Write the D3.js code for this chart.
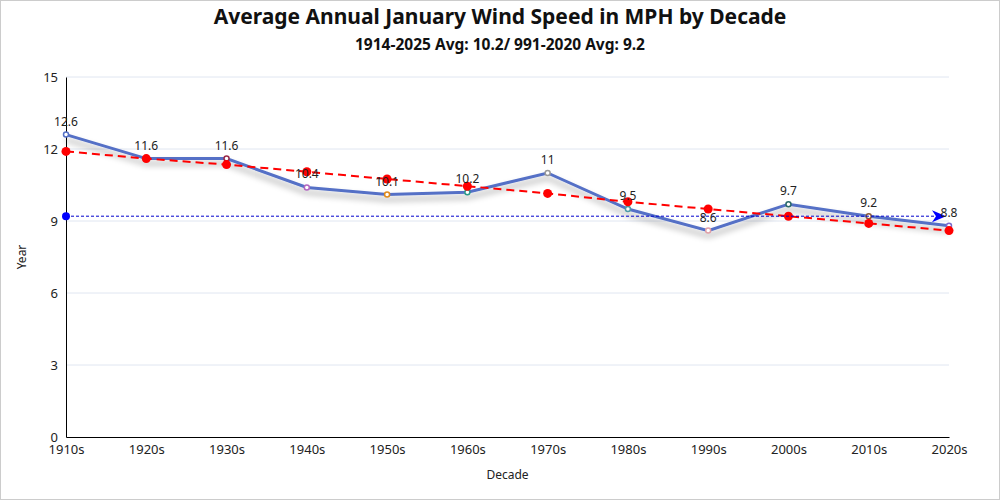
<!DOCTYPE html>
<html>
<head>
<meta charset="utf-8">
<script src="https://cdn.jsdelivr.net/npm/d3@7.9.0/dist/d3.min.js"></script>
<style>
  html, body { margin: 0; padding: 0; background: #fff; }
  svg { display: block; font-family: "Noto Sans", "Open Sans", sans-serif; }
</style>
</head>
<body>
<svg id="chart" width="1000" height="500"></svg>
<script>
// Decades on the x axis
const decades = ['1910s', '1920s', '1930s', '1940s', '1950s', '1960s',
  '1970s', '1980s', '1990s', '2000s', '2010s', '2020s'];

// Average January wind speed per decade (mph)
const windSpeed = [12.6, 11.6, 11.6, 10.4, 10.1, 10.2, 11, 9.5, 8.6, 9.7, 9.2, 8.8];

// Trend line values
const trend = [11.9, 11.6, 11.35, 11.05, 10.75, 10.45, 10.15, 9.8, 9.5, 9.2, 8.9, 8.6];

// 1991-2020 average marker line
const normalAvg = 9.2;

// Colours of the little point symbols
const pointColors = ['#5470c6', '#91cc75', '#9a2a4a', '#b266c0', '#e08a1a', '#2a9a8a',
  '#999999', '#4a9aa6', '#e0a0a8', '#2a6a6a', '#8a5a3a', '#7a6acc'];

const yTicks = [0, 3, 6, 9, 12, 15];

const width = 1000, height = 500;
const margin = { top: 77, right: 51, bottom: 63, left: 66 };

const svg = d3.select('#chart');

// outer border
svg.append('rect')
  .attr('x', 0.5).attr('y', 0.5)
  .attr('width', width - 1).attr('height', height - 1)
  .attr('fill', '#fff').attr('stroke', '#ccc');

// shadow filter for the main line
const defs = svg.append('defs');
const filter = defs.append('filter').attr('id', 'shadow')
  .attr('x', '-10%').attr('y', '-20%').attr('width', '120%').attr('height', '160%');
filter.append('feDropShadow')
  .attr('dx', 0).attr('dy', 5).attr('stdDeviation', 3)
  .attr('flood-color', '#000').attr('flood-opacity', 0.35);

let x = d3.scalePoint()
  .domain(decades)
  .range([margin.left, width - margin.right]);

let y = d3.scaleLinear()
  .domain([0, 15])
  .range([height - margin.bottom, margin.top]);

// gridlines
svg.append('g')
  .selectAll('line')
  .data(yTicks.filter((t) => t > 0))
  .join('line')
  .attr('x1', margin.left).attr('x2', width - margin.right)
  .attr('y1', (d) => y(d)).attr('y2', (d) => y(d))
  .attr('stroke', '#e0e6f1');

// y axis
let yAxis = svg.append('g')
  .attr('transform', `translate(${margin.left},0)`)
  .call(d3.axisLeft(y).tickValues(yTicks).tickSize(0).tickPadding(8));
yAxis.select('.domain').attr('stroke', '#000');
yAxis.selectAll('text').attr('font-size', 13).attr('fill', '#222')
  .attr('font-family', '"Noto Sans", sans-serif');

// x axis
let xAxis = svg.append('g')
  .attr('transform', `translate(0,${height - margin.bottom})`)
  .call(d3.axisBottom(x).tickSize(0).tickPadding(8));
xAxis.select('.domain').attr('stroke', '#000');
xAxis.selectAll('text').attr('font-size', 13).attr('fill', '#222')
  .attr('font-family', '"Noto Sans", sans-serif');

// main wind speed line
let line = d3.line()
  .x((d, i) => x(decades[i]))
  .y((d) => y(d));

svg.append('path')
  .datum(windSpeed)
  .attr('d', line)
  .attr('fill', 'none')
  .attr('stroke', '#5470c6')
  .attr('stroke-width', 3)
  .attr('filter', 'url(#shadow)');

svg.append('g')
  .selectAll('circle')
  .data(windSpeed)
  .join('circle')
  .attr('cx', (d, i) => x(decades[i]))
  .attr('cy', (d) => y(d))
  .attr('r', 2.5)
  .attr('fill', '#fff')
  .attr('stroke', (d, i) => pointColors[i])
  .attr('stroke-width', 1.5);

// trend line
svg.append('path')
  .datum(trend)
  .attr('d', line)
  .attr('fill', 'none')
  .attr('stroke', '#ff0000')
  .attr('stroke-width', 2)
  .attr('stroke-dasharray', '8,5');

svg.append('g')
  .selectAll('circle')
  .data(trend)
  .join('circle')
  .attr('cx', (d, i) => x(decades[i]))
  .attr('cy', (d) => y(d))
  .attr('r', 4.5)
  .attr('fill', '#ff0000');

// 1991-2020 average line with dot and arrow
let avgY = y(normalAvg);
let x0 = x(decades[0]);
let x1 = x(decades[decades.length - 1]);
svg.append('line')
  .attr('x1', x0).attr('x2', x1 - 8)
  .attr('y1', avgY).attr('y2', avgY)
  .attr('stroke', '#0000cc')
  .attr('stroke-width', 1)
  .attr('stroke-dasharray', '3,2');
svg.append('circle')
  .attr('cx', x0).attr('cy', avgY).attr('r', 4)
  .attr('fill', '#0000ff');
svg.append('path')
  .attr('d', `M${x1 - 3},${avgY} L${x1 - 17},${avgY - 6} L${x1 - 13},${avgY} L${x1 - 17},${avgY + 6} Z`)
  .attr('fill', '#0000ff');

// value labels
svg.append('g')
  .selectAll('text')
  .data(windSpeed)
  .join('text')
  .attr('x', (d, i) => x(decades[i]))
  .attr('y', (d) => y(d) - 9)
  .attr('text-anchor', 'middle')
  .attr('font-size', 12)
  .attr('fill', '#222')
  .text((d) => d);

// titles
svg.append('text')
  .attr('x', width / 2).attr('y', 24)
  .attr('text-anchor', 'middle')
  .attr('font-size', 21).attr('font-weight', 'bold')
  .attr('fill', '#111')
  .text('Average Annual January Wind Speed in MPH by Decade');

svg.append('text')
  .attr('x', width / 2).attr('y', 50)
  .attr('text-anchor', 'middle')
  .attr('font-size', 15.5).attr('font-weight', 'bold')
  .attr('fill', '#111')
  .text('1914-2025 Avg: 10.2/ 991-2020 Avg: 9.2');

// axis names
svg.append('text')
  .attr('transform', `translate(26,${(margin.top + height - margin.bottom) / 2}) rotate(-90)`)
  .attr('text-anchor', 'middle')
  .attr('font-size', 12).attr('fill', '#222')
  .text('Year');

svg.append('text')
  .attr('x', (margin.left + width - margin.right) / 2).attr('y', 479)
  .attr('text-anchor', 'middle')
  .attr('font-size', 12).attr('fill', '#222')
  .text('Decade');
</script>
</body>
</html>
